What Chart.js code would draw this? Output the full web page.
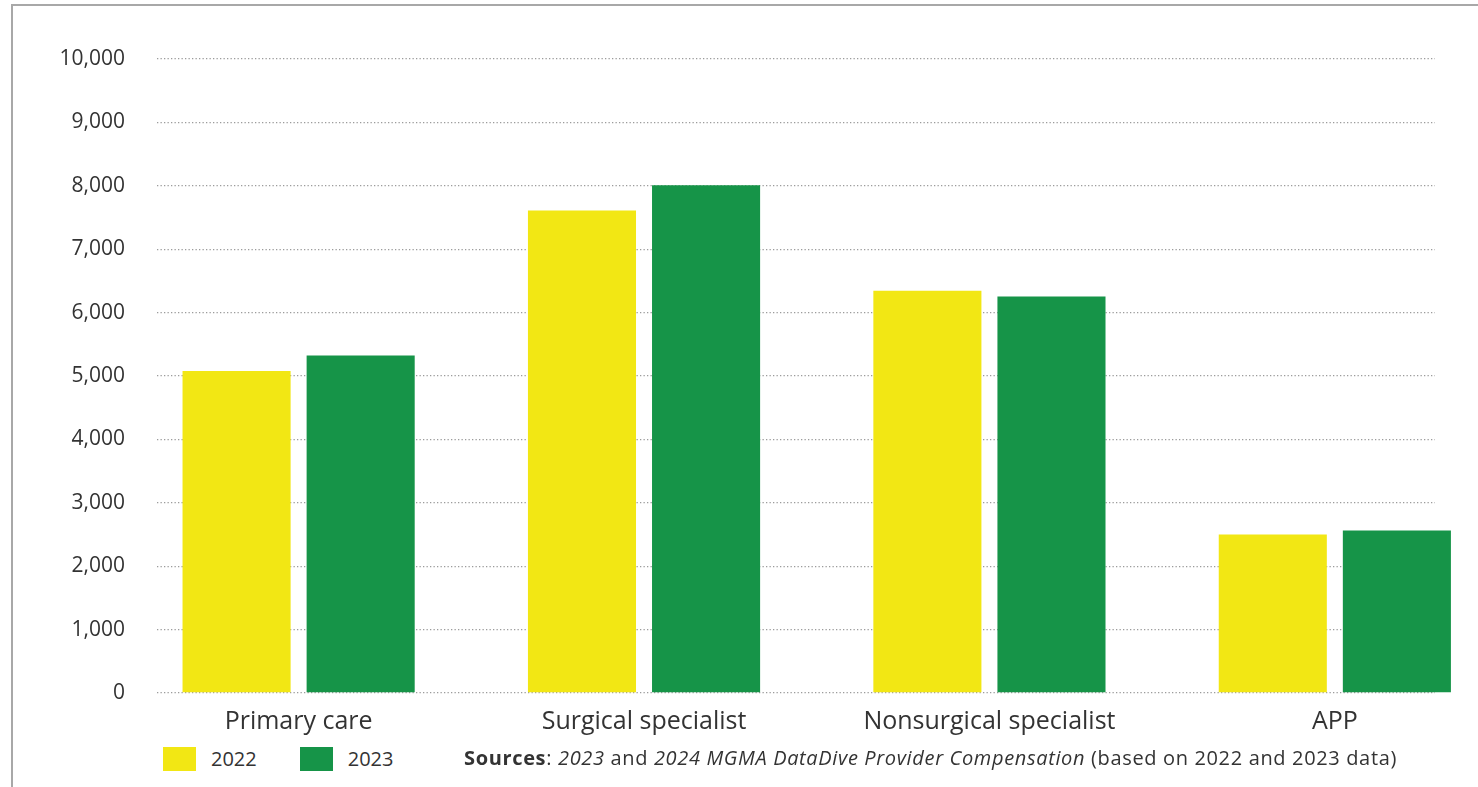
<!DOCTYPE html>
<html>
<head>
<meta charset="utf-8">
<script src="https://cdn.jsdelivr.net/npm/chart.js@4.4.0/dist/chart.umd.min.js"></script>
<style>
  html, body { margin:0; padding:0; background:#fff; }
  body { width:1478px; height:787px; position:relative; overflow:hidden; font-family:'Open Sans', sans-serif; color:#333; }
  .frame { position:absolute; left:11px; top:4px; width:1520px; height:840px; border:2px solid #a8a8a8; box-sizing:border-box; }
  #wrap { position:absolute; left:0; top:0; width:1478px; height:745px; }
  #legend { position:absolute; left:163px; top:746px; height:25px; display:flex; align-items:center; font-size:20px; }
  #legend .item { display:flex; align-items:center; margin-right:43px; }
  #legend .sw { width:33px; height:24px; margin-right:15px; }
  #sources { position:absolute; left:464px; top:745px; height:25px; line-height:25px; font-size:20px; letter-spacing:0.65px; color:#333; white-space:nowrap; }
</style>
</head>
<body>
<div class="frame"></div>
<div id="wrap"><canvas id="chart"></canvas></div>
<div id="legend"></div>
<div id="sources"><b>Sources</b>: <i>2023</i> and <i>2024 MGMA DataDive Provider Compensation</i> (based on 2022 and 2023 data)</div>
<script>
// data
const categories = ['Primary care', 'Surgical specialist', 'Nonsurgical specialist', 'APP'];
const years = ['2022', '2023'];
const values2022 = [5080, 7610, 6345, 2500];
const values2023 = [5325, 8010, 6255, 2565];
const yMax = 10000;
const yStep = 1000;

const colors = ['#F2E714', '#169448'];

Chart.defaults.font.family = "'Open Sans', sans-serif";
Chart.defaults.color = '#333';

const series = [values2022, values2023];
const datasets = years.map((y, k) => ({
  label: y,
  data: series[k].map((v, i) => ({ x: i, y: v })),
  backgroundColor: colors[k],
  borderWidth: 0,
  clip: false,
  categoryPercentage: 0.7185,
  barPercentage: 0.871
}));

new Chart(document.getElementById('chart'), {
  type: 'bar',
  data: { datasets },
  options: {
    responsive: true,
    maintainAspectRatio: false,
    animation: false,
    layout: { padding: { left: 0, right: 43, top: 59, bottom: 0 } },
    plugins: { legend: { display: false }, tooltip: { enabled: false } },
    scales: {
      x: {
        type: 'linear',
        offset: false,
        bounds: 'data',
        min: -0.41,
        max: 3.29,
        grid: { display: false },
        border: { display: false },
        afterBuildTicks: s => { s.ticks = categories.map((c, i) => ({ value: i })); },
        afterFit: s => { s.height = 52; },
        ticks: {
          callback: v => categories[v],
          font: { size: 25 },
          color: '#333',
          padding: 6,
          maxRotation: 0,
          autoSkip: false
        }
      },
      y: {
        min: 0,
        max: yMax,
        ticks: {
          stepSize: yStep,
          callback: v => v.toLocaleString('en-US'),
          font: { size: 21 },
          color: '#333',
          padding: 32
        },
        grid: { color: '#9b9b9b', lineWidth: 1.3, drawTicks: false },
        border: { display: false, dash: [1.3, 2.2] },
        afterFit: s => { s.width = 157; }
      }
    }
  }
});

// legend row, built from the same arrays
const legend = document.getElementById('legend');
years.forEach((y, k) => {
  const d = document.createElement('div');
  d.className = 'item';
  d.innerHTML = `<span class="sw" style="background:${colors[k]}"></span><span>${y}</span>`;
  legend.appendChild(d);
});
</script>
</body>
</html>
